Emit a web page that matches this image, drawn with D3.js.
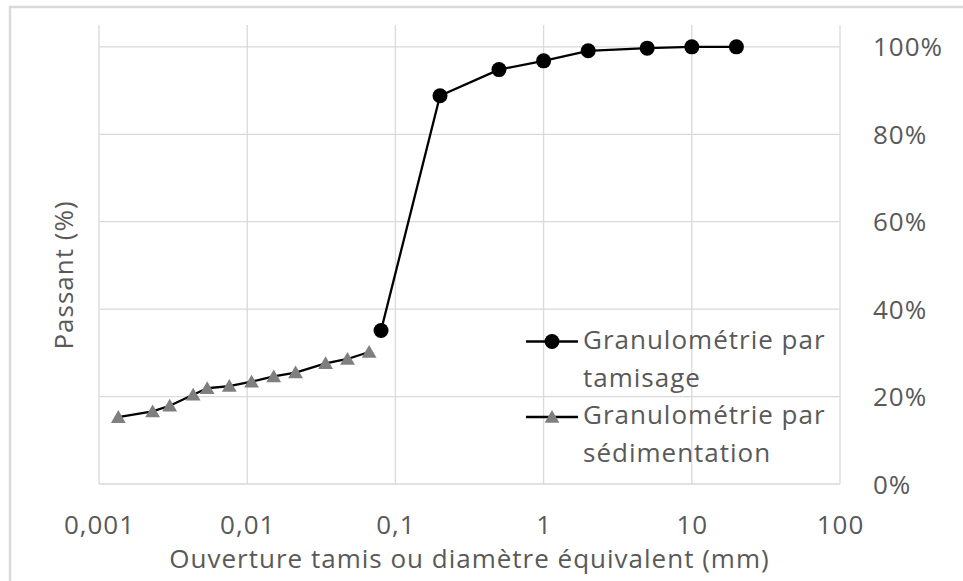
<!DOCTYPE html>
<html>
<head>
<meta charset="utf-8">
<script src="https://cdn.jsdelivr.net/npm/d3@7"></script>
<style>
  html, body { margin: 0; padding: 0; background: #fff; }
  svg { display: block; }
  text { font-family: "Open Sans", "Noto Sans", sans-serif; fill: #595959; letter-spacing: 1px; }
</style>
</head>
<body>
<svg id="chart" width="963" height="581"></svg>
<script>
// ---- data ----
const tamisageSize = [0.08, 0.2, 0.5, 1, 2, 5, 10, 20];
const tamisagePassant = [35.1, 88.8, 94.8, 96.8, 99.1, 99.7, 100, 100];
const sedimSize = [0.00135, 0.0023, 0.0030, 0.00432, 0.00537, 0.00757, 0.0107, 0.0151, 0.0212, 0.0338, 0.0475, 0.0665];
const sedimPassant = [15.3, 16.6, 17.9, 20.4, 21.9, 22.4, 23.4, 24.6, 25.5, 27.6, 28.6, 30.2];
const xTicks = [0.001, 0.01, 0.1, 1, 10, 100];
const xTickLabels = ["0,001", "0,01", "0,1", "1", "10", "100"];
const yTicks = [0, 20, 40, 60, 80, 100];
const yTickLabels = ["0%", "20%", "40%", "60%", "80%", "100%"];
const seriesNames = [["Granulométrie par", "tamisage"], ["Granulométrie par", "sédimentation"]];
const xTitle = "Ouverture tamis ou diamètre équivalent (mm)";
const yTitle = "Passant (%)";

(function () {
// ---- layout ----
const svg = d3.select("#chart");
const pLeft = 99, pRight = 840, pTop = 25, pBottom = 484;
const x = d3.scaleLog().domain([0.001, 100]).range([pLeft, pRight]);
const y = d3.scaleLinear().domain([0, 105]).range([pBottom, pTop]);

// outer frame
svg.append("rect").attr("x", 10).attr("y", 7).attr("width", 1000).attr("height", 1000)
  .attr("fill", "none").attr("stroke", "#d9d9d9").attr("stroke-width", 2.5);

// gridlines
const grid = svg.append("g");
grid.selectAll("line.v").data(xTicks).join("line").attr("class", "v")
  .attr("x1", d => x(d)).attr("x2", d => x(d)).attr("y1", pTop).attr("y2", pBottom)
  .attr("stroke", "#d9d9d9").attr("stroke-width", 1.3);
grid.selectAll("line.h").data(yTicks).join("line").attr("class", "h")
  .attr("x1", pLeft).attr("x2", pRight).attr("y1", d => y(d)).attr("y2", d => y(d))
  .attr("stroke", "#d9d9d9").attr("stroke-width", 1.3);

// x axis labels
const xAxis = d3.axisBottom(x).tickValues(xTicks).tickSize(0).tickPadding(0)
  .tickFormat((d, i) => xTickLabels[i]);
const gx = svg.append("g").attr("transform", `translate(0,${pBottom})`).call(xAxis);
gx.select(".domain").remove();
gx.selectAll("text").attr("y", 50).attr("dy", null).attr("font-size", 26)
  .style("font-family", '"Open Sans", sans-serif').attr("fill", "#595959");

// y axis labels (right)
const yAxis = d3.axisRight(y).tickValues(yTicks).tickSize(0).tickPadding(0)
  .tickFormat((d, i) => yTickLabels[i]);
const gy = svg.append("g").attr("transform", `translate(${pRight},0)`).call(yAxis);
gy.select(".domain").remove();
gy.selectAll("text").attr("x", 33).attr("dy", "0.35em").attr("font-size", 26)
  .attr("text-anchor", "start")
  .style("font-family", '"Open Sans", sans-serif').attr("fill", "#595959");

// titles
svg.append("text").attr("x", (pLeft + pRight) / 2).attr("y", 568).attr("text-anchor", "middle")
  .attr("font-size", 26).text(xTitle);
svg.append("text").attr("transform", "translate(73,275) rotate(-90)").attr("text-anchor", "middle")
  .attr("font-size", 26).text(yTitle);

// series
const line = d3.line().x(d => x(d[0])).y(d => y(d[1]));
const tam = tamisageSize.map((s, i) => [s, tamisagePassant[i]]);
const sed = sedimSize.map((s, i) => [s, sedimPassant[i]]);

svg.append("path").datum(sed).attr("d", line).attr("fill", "none")
  .attr("stroke", "#000").attr("stroke-width", 2.3).attr("stroke-linejoin", "round");
const tri = d3.symbol().type(d3.symbolTriangle).size(95);
svg.append("g").selectAll("path").data(sed).join("path")
  .attr("d", tri).attr("transform", d => `translate(${x(d[0])},${y(d[1]) + 1.5})`)
  .attr("fill", "#7f7f7f");

svg.append("path").datum(tam).attr("d", line).attr("fill", "none")
  .attr("stroke", "#000").attr("stroke-width", 2.3).attr("stroke-linejoin", "round");
svg.append("g").selectAll("circle").data(tam).join("circle")
  .attr("cx", d => x(d[0])).attr("cy", d => y(d[1])).attr("r", 7.5).attr("fill", "#000");

// legend
const lg = svg.append("g");
const entries = [{ ly: 341.5, base: 349, marker: "circle" }, { ly: 417, base: 424, marker: "tri" }];
entries.forEach((e, i) => {
  lg.append("line").attr("x1", 526).attr("x2", 578).attr("y1", e.ly).attr("y2", e.ly)
    .attr("stroke", "#000").attr("stroke-width", 2.3);
  if (e.marker === "circle") {
    lg.append("circle").attr("cx", 552).attr("cy", e.ly).attr("r", 7.5).attr("fill", "#000");
  } else {
    lg.append("path").attr("d", tri).attr("transform", `translate(552,${e.ly + 1.5})`).attr("fill", "#7f7f7f");
  }
  seriesNames[i].forEach((t, j) => {
    lg.append("text").attr("x", 583).attr("y", e.base + j * 38).attr("font-size", 26).text(t);
  });
});
})();
</script>
</body>
</html>
